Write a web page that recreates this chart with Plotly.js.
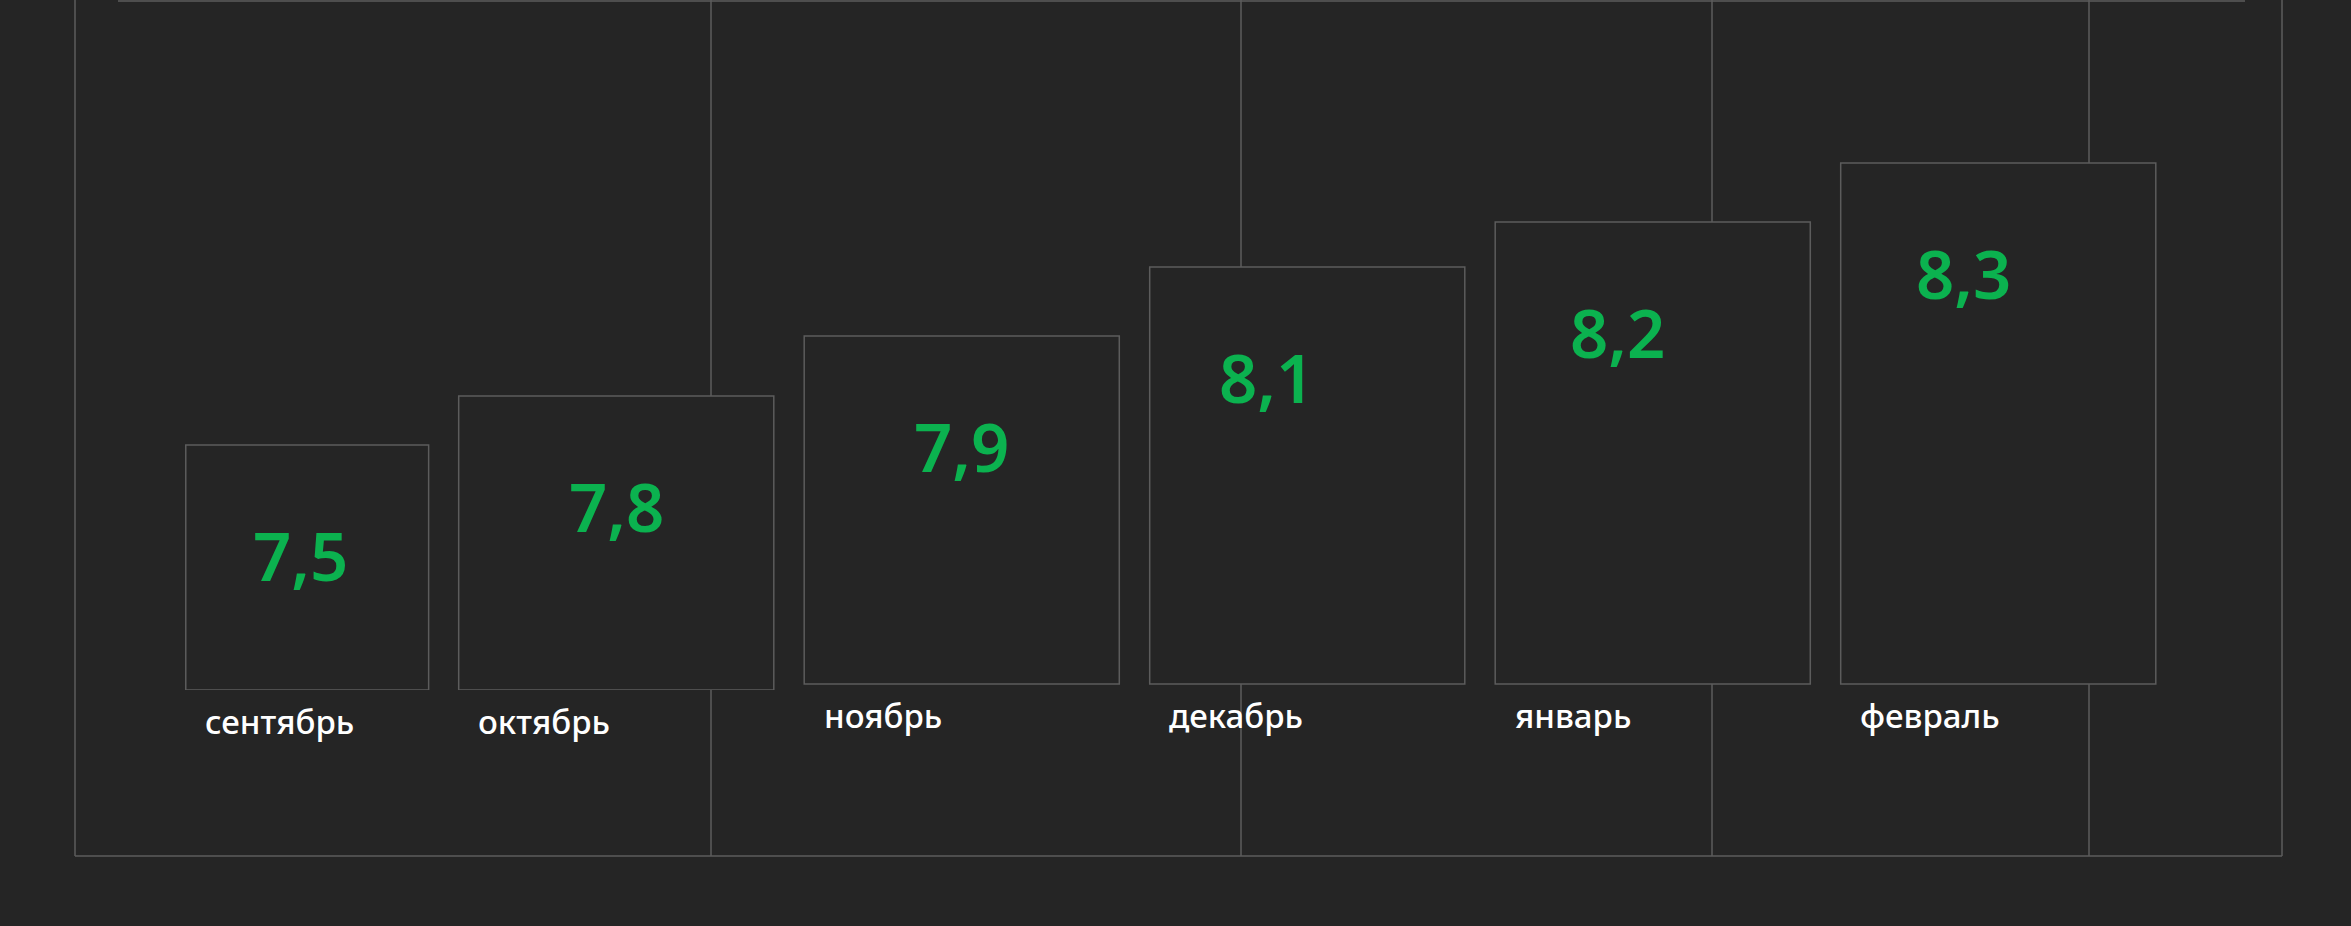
<!DOCTYPE html>
<html>
<head>
<meta charset="utf-8">
<script src="https://cdn.plot.ly/plotly-3.0.1.min.js"></script>
<style>
  html, body { margin: 0; padding: 0; background: #252525; }
  #chart { width: 2351px; height: 926px; }
</style>
</head>
<body>
<div id="chart"></div>
<script>
'use strict';

// months and the value shown in each box
const months = ['сентябрь', 'октябрь', 'ноябрь', 'декабрь', 'январь', 'февраль'];
const values = [7.5, 7.8, 7.9, 8.1, 8.2, 8.3];
const valueLabels = ['7,5', '7,8', '7,9', '8,1', '8,2', '8,3'];
// box heights as drawn in the picture (not proportional to the values)
const boxHeight = [49, 58.8, 69.6, 83.4, 92.4, 104.2];
const boxBase = [0, 0, 1.2, 1.2, 1.2, 1.2];

const W = 2351, H = 926;
const mL = 98, mR = 180, mT = 0, mB = 236;
const plotW = W - mL - mR, plotH = H - mT - mB;

const bg = '#252525', lineCol = '#5c5c5c', green = '#0bb24f';

// page pixels -> paper coords
function px(x) { return (x - mL) / plotW; }
function py(y) { return (H - mB - y) / plotH; }

const x = months.map(function(m, i) { return i; });

const bars = {
	type: 'bar',
	x: x,
	y: boxHeight,
	base: boxBase,
	width: [0.703, 0.912, 0.912, 0.912, 0.912, 0.912],
	offset: [-0.246, -0.456, -0.456, -0.456, -0.456, -0.456],
	marker: { color: bg, line: { color: lineCol, width: 1.5 } },
	hoverinfo: 'skip',
	customdata: values
};

const annotations = [];
const valShift = [30, 0, 0, -41, -35, -35];
const monthShift = [-68, -140, -140, -140, -140, -140];
months.forEach(function(m, i) {
	annotations.push({
		x: i, y: boxBase[i] + boxHeight[i], xref: 'x', yref: 'y',
		text: valueLabels[i], showarrow: false,
		xanchor: 'center', yanchor: 'middle',
		xshift: valShift[i], yshift: -110,
		font: { family: 'Noto Sans, sans-serif', size: 67, color: green, weight: 600 }
	});
	annotations.push({
		x: i, y: boxBase[i], xref: 'x', yref: 'y',
		text: m, showarrow: false,
		xanchor: 'left', yanchor: 'middle',
		xshift: monthShift[i], yshift: -31,
		font: { family: 'Noto Sans, sans-serif', size: 33, color: '#ffffff', weight: 500 }
	});
});

function vline(xp, y0, y1) {
	return { type: 'line', xref: 'paper', yref: 'paper', layer: 'below',
		x0: px(xp), x1: px(xp), y0: py(y0), y1: py(y1),
		line: { color: lineCol, width: 1.5 } };
}
function hline(x0, x1, yp) {
	return { type: 'line', xref: 'paper', yref: 'paper', layer: 'below',
		x0: px(x0), x1: px(x1), y0: py(yp), y1: py(yp),
		line: { color: lineCol, width: 1.5 } };
}

const shapes = [
	vline(75, 0, 856),
	vline(2282, 0, 856),
	hline(75, 2282, 856),
	hline(118, 2245, 1),
	vline(711, 0, 856),
	vline(1241, 0, 856),
	vline(1712, 0, 856),
	vline(2089, 0, 856)
];

const layout = {
	width: W,
	height: H,
	margin: { l: mL, r: mR, t: mT, b: mB, pad: 0 },
	paper_bgcolor: bg,
	plot_bgcolor: bg,
	showlegend: false,
	xaxis: { range: [-0.5, 5.5], visible: false, fixedrange: true },
	yaxis: { range: [0, plotH / 5], visible: false, fixedrange: true },
	shapes: shapes,
	annotations: annotations
};

Plotly.newPlot('chart', [bars], layout, { staticPlot: true, displayModeBar: false });
</script>
</body>
</html>
